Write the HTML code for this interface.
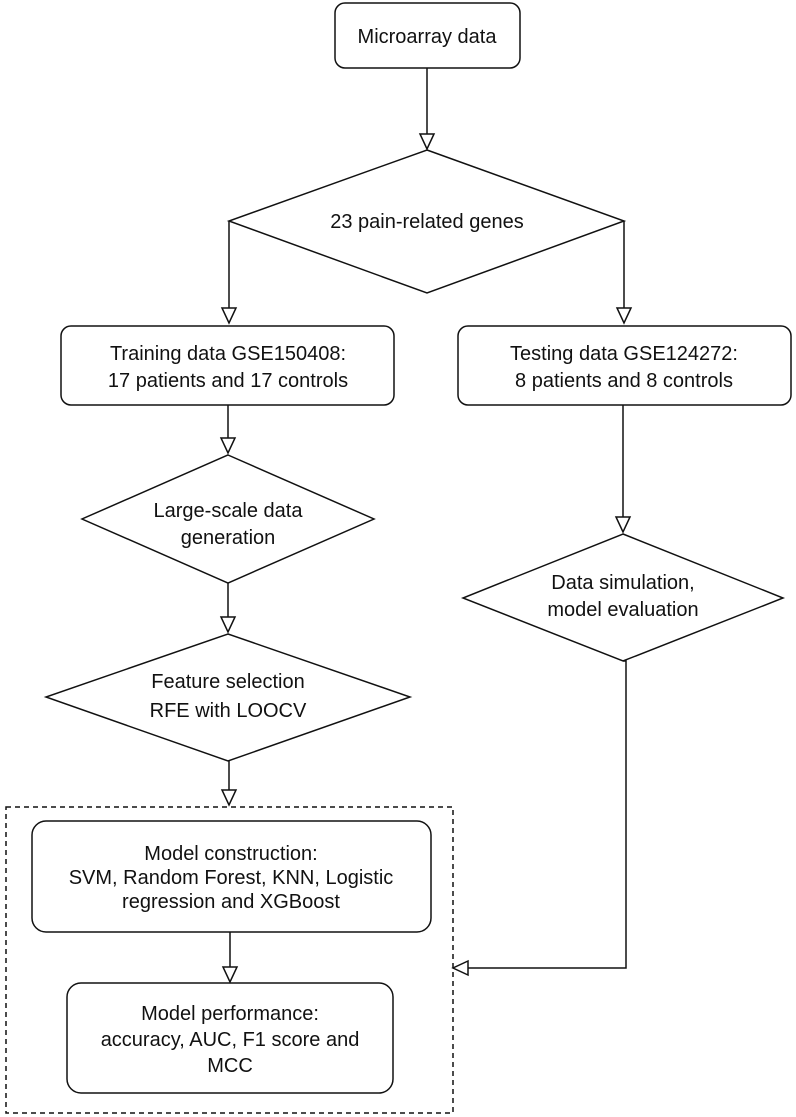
<!DOCTYPE html>
<html><head><meta charset="utf-8"><style>
html,body{margin:0;padding:0;background:#fff;}
svg{display:block;}
text{font-family:"Liberation Sans",Arial,sans-serif;font-size:20px;fill:#111;text-anchor:middle;}
</style></head><body>
<svg width="796" height="1117" viewBox="0 0 796 1117" xmlns="http://www.w3.org/2000/svg">
<g fill="none" stroke="#111" stroke-width="1.5">
<rect x="335" y="3" width="185" height="65" rx="10"/>
<line x1="427" y1="68" x2="427" y2="134"/>
<polygon points="420,134 434,134 427,149" fill="#fff"/>
<polygon points="427,150 624,221 427,293 229,221"/>
<polyline points="229,221 229,308"/>
<polygon points="222,308 236,308 229,323" fill="#fff"/>
<polyline points="624,221 624,308"/>
<polygon points="617,308 631,308 624,323" fill="#fff"/>
<rect x="61" y="326" width="333" height="79" rx="10"/>
<rect x="458" y="326" width="333" height="79" rx="10"/>
<line x1="228" y1="405" x2="228" y2="438"/>
<polygon points="221,438 235,438 228,453" fill="#fff"/>
<polygon points="228,455 374,519 228,583 82,519"/>
<line x1="228" y1="583" x2="228" y2="617"/>
<polygon points="221,617 235,617 228,632" fill="#fff"/>
<polygon points="228,634 410,697 228,761 46,697"/>
<line x1="229" y1="761" x2="229" y2="790"/>
<polygon points="222,790 236,790 229,805" fill="#fff"/>
<line x1="623" y1="405" x2="623" y2="517"/>
<polygon points="616,517 630,517 623,532" fill="#fff"/>
<polygon points="623,534 783,598 623,661 463,598"/>
<polyline points="623,661 626,661 626,968 468,968"/>
<polygon points="468,961 468,975 453,968" fill="#fff"/>
<rect x="6" y="807" width="447" height="306" stroke-dasharray="5,4"/>
<rect x="32" y="821" width="399" height="111" rx="14"/>
<line x1="230" y1="932" x2="230" y2="967"/>
<polygon points="223,967 237,967 230,982" fill="#fff"/>
<rect x="67" y="983" width="326" height="110" rx="14"/>
</g>
<text x="427" y="43">Microarray data</text>
<text x="427" y="228">23 pain-related genes</text>
<text x="228" y="360">Training data GSE150408:</text>
<text x="228" y="387">17 patients and 17 controls</text>
<text x="624" y="360">Testing data GSE124272:</text>
<text x="624" y="387">8 patients and 8 controls</text>
<text x="228" y="517">Large-scale data</text>
<text x="228" y="544">generation</text>
<text x="228" y="688">Feature selection</text>
<text x="228" y="717">RFE with LOOCV</text>
<text x="623" y="589">Data simulation,</text>
<text x="623" y="616">model evaluation</text>
<text x="231" y="860">Model construction:</text>
<text x="231" y="884">SVM, Random Forest, KNN, Logistic</text>
<text x="231" y="908">regression and XGBoost</text>
<text x="230" y="1020">Model performance:</text>
<text x="230" y="1046">accuracy, AUC, F1 score and</text>
<text x="230" y="1072">MCC</text>
</svg>
</body></html>
